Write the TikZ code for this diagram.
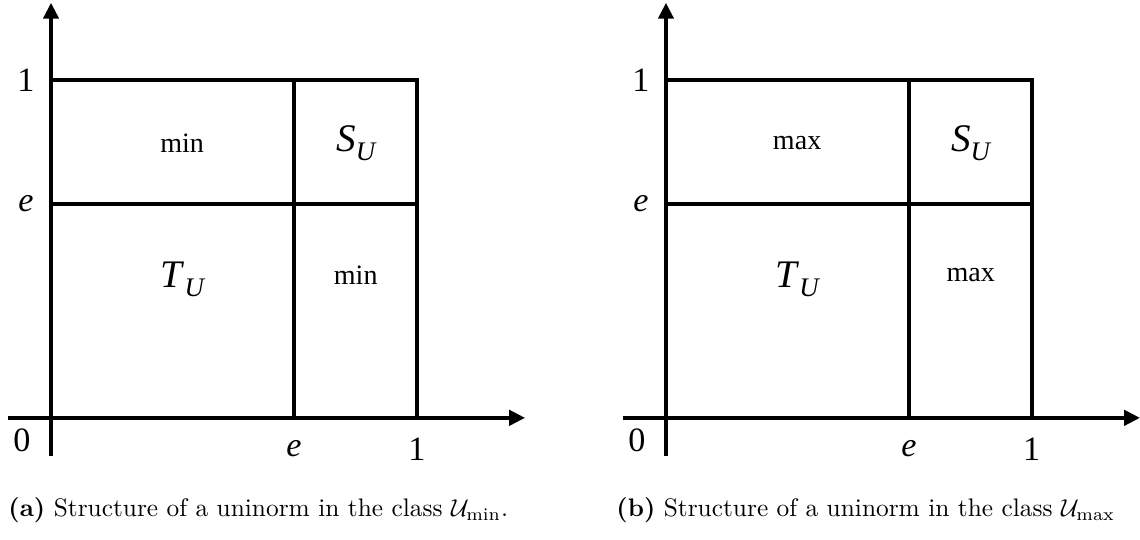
\documentclass[tikz,border=0pt]{standalone}
\usepackage{fontspec}
\usepackage{tikz}
\usetikzlibrary{arrows.meta}
\newfontfamily\tnr{Liberation Serif}
\newcommand{\subU}[1]{\textit{#1}\raisebox{-0.5ex}{\fontsize{11}{11}\selectfont\itshape U}}

\begin{document}
\begin{tikzpicture}[
    axis/.style={line width=1.5pt, -{Triangle[length=0.23cm, width=0.22cm]}},
    grid/.style={line width=1.5pt},
    tick/.style={font=\tnr\fontsize{14}{14}\selectfont},
    oplabel/.style={font=\tnr\fontsize{11.5}{11.5}\selectfont},
    normlabel/.style={font=\tnr\fontsize{16}{16}\selectfont},
    caption/.style={anchor=west, inner sep=0pt, font=\fontsize{10.4}{12}\selectfont}
]
    \useasboundingbox (-0.735,-1.76) rectangle (15.69,6.02);

    % Panel (a)
    \draw[axis] (-0.62,0) -- (6.83,0);
    \draw[axis] (0,-0.55) -- (0,5.98);
    \draw[grid] (0,4.87) -- (5.27,4.87) -- (5.27,0);
    \draw[grid] (0,3.08) -- (5.27,3.08);
    \draw[grid] (3.50,4.87) -- (3.50,0);
    \node[tick] (aone) at (-0.36,4.87) {1};
    \node[tick] (ae) at (-0.36,3.08) {\itshape e};
    \node[tick] (azero) at (-0.42,-0.32) {0};
    \node[tick] (aex) at (3.50,-0.45) {\itshape e};
    \node[tick] (aonex) at (5.27,-0.45) {1};
    \node[oplabel] (aminup) at (1.89,3.96) {min};
    \node[normlabel] (aS) at (4.39,3.96) {\subU{S}};
    \node[normlabel] (aT) at (1.89,1.99) {\subU{T}};
    \node[oplabel] (amindown) at (4.39,2.06) {min};
    \node[caption] (acap) at (-0.62,-1.33) {\textbf{(a)} Structure of a uninorm in the class $\mathcal{U}_{\min}$.};

    % Panel (b)
    \begin{scope}[xshift=8.86cm]
    \draw[axis] (-0.62,0) -- (6.83,0);
    \draw[axis] (0,-0.55) -- (0,5.98);
    \draw[grid] (0,4.87) -- (5.27,4.87) -- (5.27,0);
    \draw[grid] (0,3.08) -- (5.27,3.08);
    \draw[grid] (3.50,4.87) -- (3.50,0);
    \node[tick] (bone) at (-0.36,4.87) {1};
    \node[tick] (be) at (-0.36,3.08) {\itshape e};
    \node[tick] (bzero) at (-0.42,-0.32) {0};
    \node[tick] (bex) at (3.50,-0.45) {\itshape e};
    \node[tick] (bonex) at (5.27,-0.45) {1};
    \node[oplabel] (bmaxup) at (1.89,3.96) {max};
    \node[normlabel] (bS) at (4.39,3.96) {\subU{S}};
    \node[normlabel] (bT) at (1.89,1.99) {\subU{T}};
    \node[oplabel] (bmaxdown) at (4.39,2.06) {max};
    \node[caption] (bcap) at (-0.72,-1.33) {\textbf{(b)} Structure of a uninorm in the class $\mathcal{U}_{\max}$};
    \end{scope}
\end{tikzpicture}
\end{document}
